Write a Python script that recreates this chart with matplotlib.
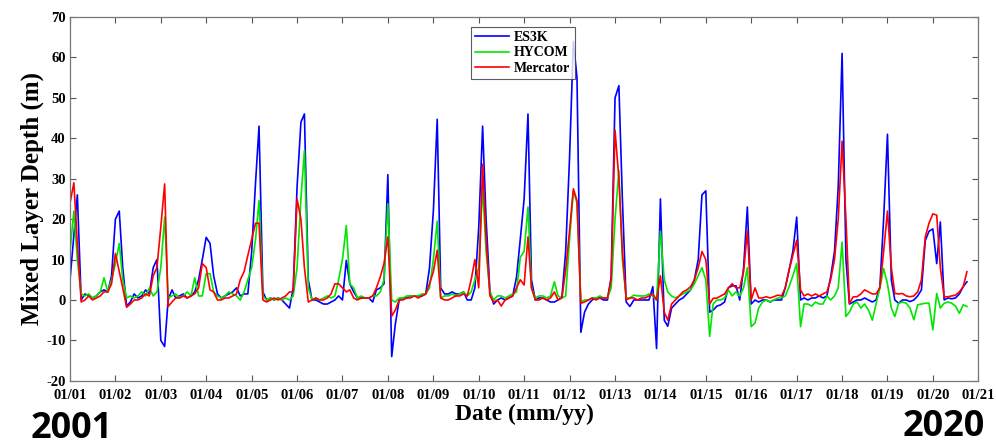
import pandas as pd
import matplotlib.pyplot as plt
import matplotlib.dates as mdates

# monthly mixed layer depth (m), Jan 2001 .. Oct 2020, one row per year
es3k = [
    5, 16, 26, 0, 1.5, 1, 0.5, 1, 2, 2.5, 2, 6,
    20, 22, 8, -1.5, -0.5, 1.5, 0.5, 1, 2.5, 1.5, 8, 10,
    -10, -11.5, 0, 2.5, 0.5, 1, 1.5, 0.5, 1, 2, 5, 10,
    15.5, 14, 6, 1.5, 0.5, 1, 1.5, 2, 3, 1, 1.5, 1.5,
    12, 29, 43, 2, 0, 0.5, 0, 0.5, 0, -1, -2, 3,
    28, 44, 46, 5, 0, 0, -0.5, -1, -1, -0.5, 0, 1,
    0, 9.8, 4, 2, 0.5, 0.5, 0.5, 0.5, -0.5, 2.5, 3, 4,
    31, -14, -6, 0, 0.5, 0.5, 1, 1, 1, 1, 1.5, 8,
    22, 44.7, 3, 1.5, 1.5, 2, 1.5, 1.5, 2, 0, 0, 3,
    18, 43, 20, 2, -1, 0, 0.5, 0, 0.5, 1, 5.7, 15,
    25, 46, 5, 0, 0.5, 0.5, 0, -0.5, -0.5, 0, 0.8, 12,
    35, 64, 55, -8, -3, -1, 0, 0.5, 0.5, 0, 0, 5.7,
    50, 53, 25, -0.5, -1.6, 0, 0, 0, 0, 0, 3.3, -12,
    25, -5, -6.5, -2, -1, 0, 0.5, 1.5, 2.5, 5, 10, 26,
    27, -3, -2.5, -1.5, -1.2, -0.5, 3, 3.5, 3.5, 0, 8, 23,
    -1, 0, -0.5, 0, 0, -0.5, 0, 0, 0, 3, 7.4, 12,
    20.5, 0, 0.5, 0, 0.5, 0.5, 1, 0.5, 1, 5.7, 12, 28,
    61, 10, -1, -0.5, 0, 0, 0.5, 0, -0.5, 0, 3.3, 20,
    41, 5, 0, -0.8, 0, 0, -0.4, 0, 1, 2.5, 14.7, 17,
    17.6, 9, 19.3, 0, 0.5, 0.3, 0.5, 1.5, 3.3, 4.5,
]
hycom = [
    12, 22, 10, 1.5, 1, 1.5, 0.5, 1, 2, 5.5, 2, 5,
    9, 14, 5, 0.5, 1, 0.5, 1, 2, 1, 3, 1, 2,
    8, 20.5, 0.5, 1, 1.5, 0.5, 1, 2, 1, 5.5, 1, 1,
    6.5, 6.5, 2, 1, 0.5, 1, 2, 1.5, 1, 0, 2, 5,
    8, 15, 24.6, 1, 0, 0.5, 0, 0.5, 0, 0.5, 0, 1,
    8, 25, 37, 3, 0, 0.5, 0, 0.5, 1, 0.5, 1, 5,
    10, 18.4, 4, 3, 0.5, 1, 0.5, 0.5, 1, 1, 2, 5,
    23.8, 0, -0.5, 0.5, 0.5, 1, 1, 1, 1, 1.5, 1.5, 3,
    10, 19.5, 0.5, 1, 1, 1.5, 1, 1.5, 2, 1, 2, 5,
    8, 28, 12, 2, 0, 1, 1, 0.5, 1, 1.5, 2, 10.6,
    12, 23, 3, 0.5, 1, 1, 0.5, 1, 4.5, 1, 0.5, 1,
    15, 27, 24, -0.5, 0, 0, 0.5, 0.5, 1, 0.5, 0.5, 3,
    20, 32, 10, 0.5, 0.5, 1.2, 1, 1, 1, 1.5, 1, 0,
    17, 5, 2, 1, 0.5, 1, 1.5, 2, 2.5, 4, 6, 8,
    5, -9, -1, 0, 0, 0.5, 2.5, 1, 2, 1, 3, 8,
    -6.6, -5.7, -2, -0.5, 0, -0.5, 0, 0.5, 0.5, 1, 3.3, 6,
    9, -6.6, -1, -1, -1.5, -0.5, -1, -1, 1, 0, 1, 3,
    14.3, -4.1, -3, -1, -0.5, -2, -1, -2.5, -5, -1, 3, 7.8,
    4, -2, -4.1, -0.8, -0.5, -0.8, -2, -4.9, -1.2, -1, -0.8, -0.8,
    -7.4, 1.6, -2, -0.8, -0.5, -0.8, -1.5, -3.3, -1.2, -1.6,
]
mercator = [
    24, 29, 14, -0.5, 0, 1, 0, 0.5, 1, 2, 2, 4,
    11.5, 7, 3, -1.8, -1, 0, 0, 0.5, 1.5, 1, 6, 8,
    18, 28.7, -1.6, -0.5, 0.5, 0.5, 1, 0.5, 1, 1.5, 3, 9,
    8, 2.5, 2, 0, 0, 0.5, 0.5, 1, 1.5, 5, 7, 11,
    15, 19, 19, 0, -0.5, 0, 0.5, 0, 0.5, 1, 2, 2,
    25, 20, 8, -0.5, 0, 0.5, 0, 0, 0.5, 1.5, 4, 4,
    3, 2, 2.5, 0.5, 0, 0.5, 0.5, 0.5, 1, 3, 5.7, 9,
    15.6, -4, -2.5, 0, 0, 0.5, 0.5, 1, 0.5, 1, 1.5, 4,
    7, 12.3, 0.5, 0, 0, 0.5, 1, 1, 1.5, 1, 5, 10,
    3, 33.6, 15, 1, -0.5, 0, -1.5, 0, 0.5, 1, 3, 5,
    3.7, 15.6, 3, 0, 0, 0.5, 0, 0.5, 2, 0, 0.5, 7.4,
    17, 27.5, 24.6, -0.8, -0.5, 0, 0.5, 0, 0.5, 0.5, 0.5, 5,
    42, 30, 12, 0, 0.5, 0.5, 0, 0.5, 0.5, 1, 1.5, 0,
    6, -3, -5, -1, 0, 1, 2, 2.5, 3.3, 5, 8, 12,
    10, -1, 0.4, 0.5, 1, 1.5, 3, 4, 3, 3, 7, 17,
    0, 3, 0.5, 0.5, 0.8, 0.5, 0.8, 1.2, 1, 3, 7.4, 11,
    14.8, 2.5, 1, 1.5, 1, 1.5, 1, 1.5, 2, 5, 10, 20,
    39.3, 20, -0.8, 0.8, 0.8, 1.5, 2.5, 2, 1.5, 1.5, 3, 12,
    22, 8, 1.6, 1.5, 1.6, 1, 0.8, 1, 2, 5, 15.6, 19,
    21.3, 21, 8, 0.8, 0.8, 1, 1.2, 2, 3.3, 7,
]

dates = pd.date_range("2001-01-01", periods=len(es3k), freq="MS")

plt.rcParams["axes.unicode_minus"] = False
serif = "Liberation Serif"
fig = plt.figure(figsize=(9.96, 4.47), dpi=100)
ax = fig.add_axes([0.0703, 0.148, 0.912, 0.814])

ax.plot(dates, es3k, color="#0000ff", lw=1.2, label="ES3K")
ax.plot(dates, hycom, color="#00e600", lw=1.2, label="HYCOM")
ax.plot(dates, mercator, color="#ff0000", lw=1.2, label="Mercator")

ax.set_xlim(pd.Timestamp("2001-01-01"), pd.Timestamp("2021-01-01"))
ax.set_ylim(-20, 70)
ax.set_yticks(range(-20, 71, 10))
ax.xaxis.set_major_locator(mdates.YearLocator())
ax.xaxis.set_major_formatter(mdates.DateFormatter("%m/%y"))

ax.tick_params(direction="in", top=True, right=True, length=4, width=0.8,
               color="#555555", labelsize=10.5)
ax.tick_params(axis="x", pad=6)
ax.tick_params(axis="y", pad=3)
for lab in ax.get_xticklabels() + ax.get_yticklabels():
    lab.set_fontfamily(serif)
    lab.set_fontweight("bold")
for s in ax.spines.values():
    s.set_color("#777777")
    s.set_linewidth(0.9)

ax.set_ylabel("Mixed Layer Depth (m)", fontfamily=serif, fontweight="bold",
              fontsize=18, labelpad=2)
ax.set_xlabel("Date (mm/yy)", fontfamily=serif, fontweight="bold",
              fontsize=17, labelpad=1)

leg = ax.legend(loc="upper center", bbox_to_anchor=(0.4985, 0.972),
                prop={"family": serif, "weight": "bold", "size": 10},
                frameon=True, fancybox=False, handlelength=2.4,
                borderpad=0.3, labelspacing=0.15, handletextpad=0.4,
                borderaxespad=0)
leg.get_frame().set_edgecolor("#333333")
leg.get_frame().set_linewidth(0.8)

fig.text(0.031, 0.02, "2001", fontfamily="Open Sans", fontweight="bold",
         fontsize=26, ha="left", va="baseline")
fig.text(0.989, 0.004, "2020", fontfamily="Open Sans", fontweight="bold",
         fontsize=26, ha="right", va="bottom")

fig.savefig("out.png", dpi=100)
